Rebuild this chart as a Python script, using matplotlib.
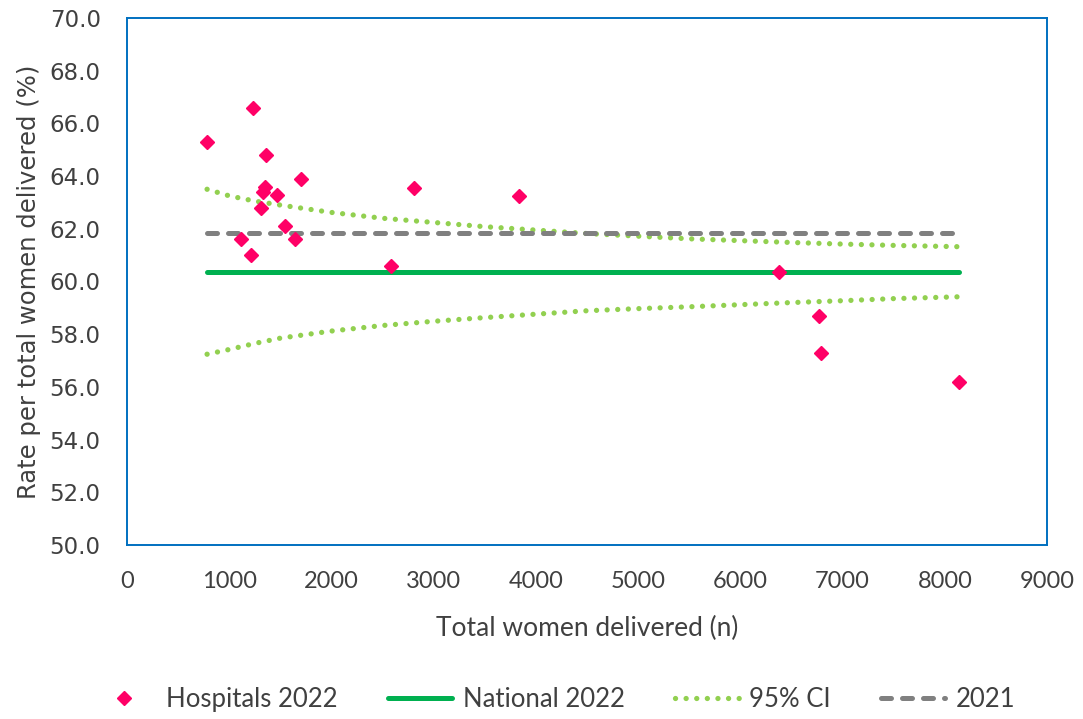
import matplotlib.pyplot as plt
from matplotlib.lines import Line2D

# hospital sizes (total women delivered) and rates (%)
hosp_n = [783, 1233, 1360, 1706, 1350, 1330, 1471, 1311, 1546, 1115, 1643, 1213,
          2808, 3835, 2583, 6378, 6773, 6792, 8139]
hosp_rate = [65.3, 66.6, 64.8, 63.9, 63.6, 63.4, 63.3, 62.8, 62.1, 61.6, 61.6, 61.0,
             63.55, 63.24, 60.6, 60.35, 58.7, 57.3, 56.2]

# national rate 2022 and previous year
national_2022 = 60.35
rate_2021 = 61.83
line_x = [783, 8139]

# 95% CI funnel limits
ci_n = [783, 1000, 1250, 1500, 2000, 2500, 3000, 3500, 4000, 4500, 5000, 5500,
        6000, 6500, 7000, 7500, 8139]
ci_upper = [63.50, 63.25, 63.05, 62.90, 62.62, 62.40, 62.24, 62.08, 61.95, 61.82,
            61.72, 61.62, 61.55, 61.48, 61.42, 61.37, 61.32]
ci_lower = [57.24, 57.42, 57.65, 57.85, 58.12, 58.33, 58.49, 58.63, 58.76, 58.89,
            58.97, 59.04, 59.12, 59.20, 59.27, 59.35, 59.42]

x_ticks = [0, 1000, 2000, 3000, 4000, 5000, 6000, 7000, 8000, 9000]
y_ticks = [50, 52, 54, 56, 58, 60, 62, 64, 66, 68, 70]

pink = "#FF0066"
green = "#00B050"
light_green = "#92D050"
grey = "#808080"
blue = "#0070C0"
text_col = "#404040"
narrow = ["Lato", "DejaVu Sans"]

fig = plt.figure(figsize=(10.83, 7.19), dpi=100)
ax = fig.add_axes([0.1173, 0.242, 0.8495, 0.733])

dots = (0, (0.01, 2.0))
ax.plot(ci_n, ci_upper, color=light_green, lw=3.8, linestyle=dots,
        dash_capstyle="round", zorder=2)
ax.plot(ci_n, ci_lower, color=light_green, lw=3.8, linestyle=dots,
        dash_capstyle="round", zorder=2)
ax.plot(line_x, [rate_2021, rate_2021], color=grey, lw=3.6,
        linestyle=(0, (2.0, 2.2)), dash_capstyle="round", zorder=2)
ax.plot(line_x, [national_2022, national_2022], color=green, lw=3.6,
        solid_capstyle="round", zorder=3)
ax.plot(hosp_n, hosp_rate, linestyle="none", marker="D", markersize=7.5,
        color=pink, zorder=4)

ax.set_xlim(0, 9000)
ax.set_ylim(50, 70)
ax.set_xticks(x_ticks)
ax.set_yticks(y_ticks)
ax.set_yticklabels([f"{v:.1f}" for v in y_ticks], fontsize=16.5, color=text_col,
                   family="DejaVu Sans")
ax.set_xticklabels([str(v) for v in x_ticks], fontsize=17, color=text_col,
                   family=narrow)
ax.tick_params(axis="both", length=0)
ax.tick_params(axis="x", pad=19)
ax.tick_params(axis="y", pad=19)
for s in ax.spines.values():
    s.set_color(blue)
    s.set_linewidth(1.4)

ax.set_xlabel("Total women delivered (n)", fontsize=19, color=text_col,
              family=narrow, labelpad=17)
ax.set_ylabel("Rate per total women delivered (%)", fontsize=17.5, color=text_col,
              family="DejaVu Sans", labelpad=6)

handles = [
    Line2D([], [], linestyle="none", marker="D", markersize=7.5, color=pink),
    Line2D([], [], color=green, lw=3.6, solid_capstyle="round"),
    Line2D([], [], color=light_green, lw=3.8, linestyle=dots, dash_capstyle="round"),
    Line2D([], [], color=grey, lw=3.6, linestyle=(0, (2.0, 2.2)), dash_capstyle="round"),
]
labels = ["Hospitals 2022", "National 2022", "95% CI", "2021"]
fig.legend(handles, labels, loc="center", bbox_to_anchor=(0.511, 0.027), ncol=4,
           frameon=False, prop={"family": narrow, "size": 18.5},
           labelcolor=text_col, handlelength=2.5, columnspacing=1.95, handletextpad=0.4)

fig.savefig("out.png", dpi=100)
